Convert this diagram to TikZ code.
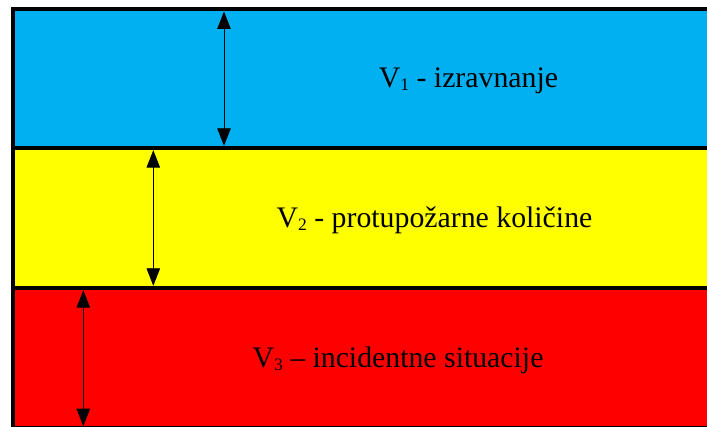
\documentclass[tikz,border=0pt]{standalone}
\usepackage{fontspec}
\setmainfont{Liberation Serif}
\usetikzlibrary{arrows.meta}

\definecolor{bandblue}{HTML}{00B0F0}
\definecolor{bandyellow}{HTML}{FFFF00}
\definecolor{bandred}{HTML}{FF0000}

\newcommand{\vsub}[1]{\raisebox{-3pt}{\fontsize{17.5}{17.5}\selectfont #1}}

\tikzset{
  band/.style={draw=black,line width=4.4pt},
  label/.style={anchor=base,inner sep=0pt,font=\fontsize{29.8}{35}\selectfont},
  height/.style={{Triangle[length=17.5pt,width=13.5pt]}-{Triangle[length=17.5pt,width=13.5pt]},line width=0.9pt}
}

\begin{document}
\begin{tikzpicture}[x=1pt,y=-1pt]

\useasboundingbox (0,0) rectangle (707,427);
\clip (0,0) rectangle (707,427);

\draw[band,fill=bandblue] (12.8,9.3) rectangle (730,148);
\draw[band,fill=bandyellow] (12.8,148) rectangle (730,288);
\draw[band,fill=bandred] (12.8,288) rectangle (730,428.4);

\node[label] (v1) at (468.5,87.3) {V\vsub{1} - izravnanje};
\node[label] (v2) at (434.5,227.3) {V\vsub{2} - protupožarne količine};
\node[label] (v3) at (398,367.3) {V\vsub{3} – incidentne situacije};

\coordinate (v1top) at (224,11.5);
\coordinate (v1bot) at (224,145.8);
\coordinate (v2top) at (153.3,150.2);
\coordinate (v2bot) at (153.3,285.8);
\coordinate (v3top) at (83.3,290.2);
\coordinate (v3bot) at (83.3,426.2);

\draw[height] (v1top) -- (v1bot);
\draw[height] (v2top) -- (v2bot);
\draw[height] (v3top) -- (v3bot);

\end{tikzpicture}
\end{document}
